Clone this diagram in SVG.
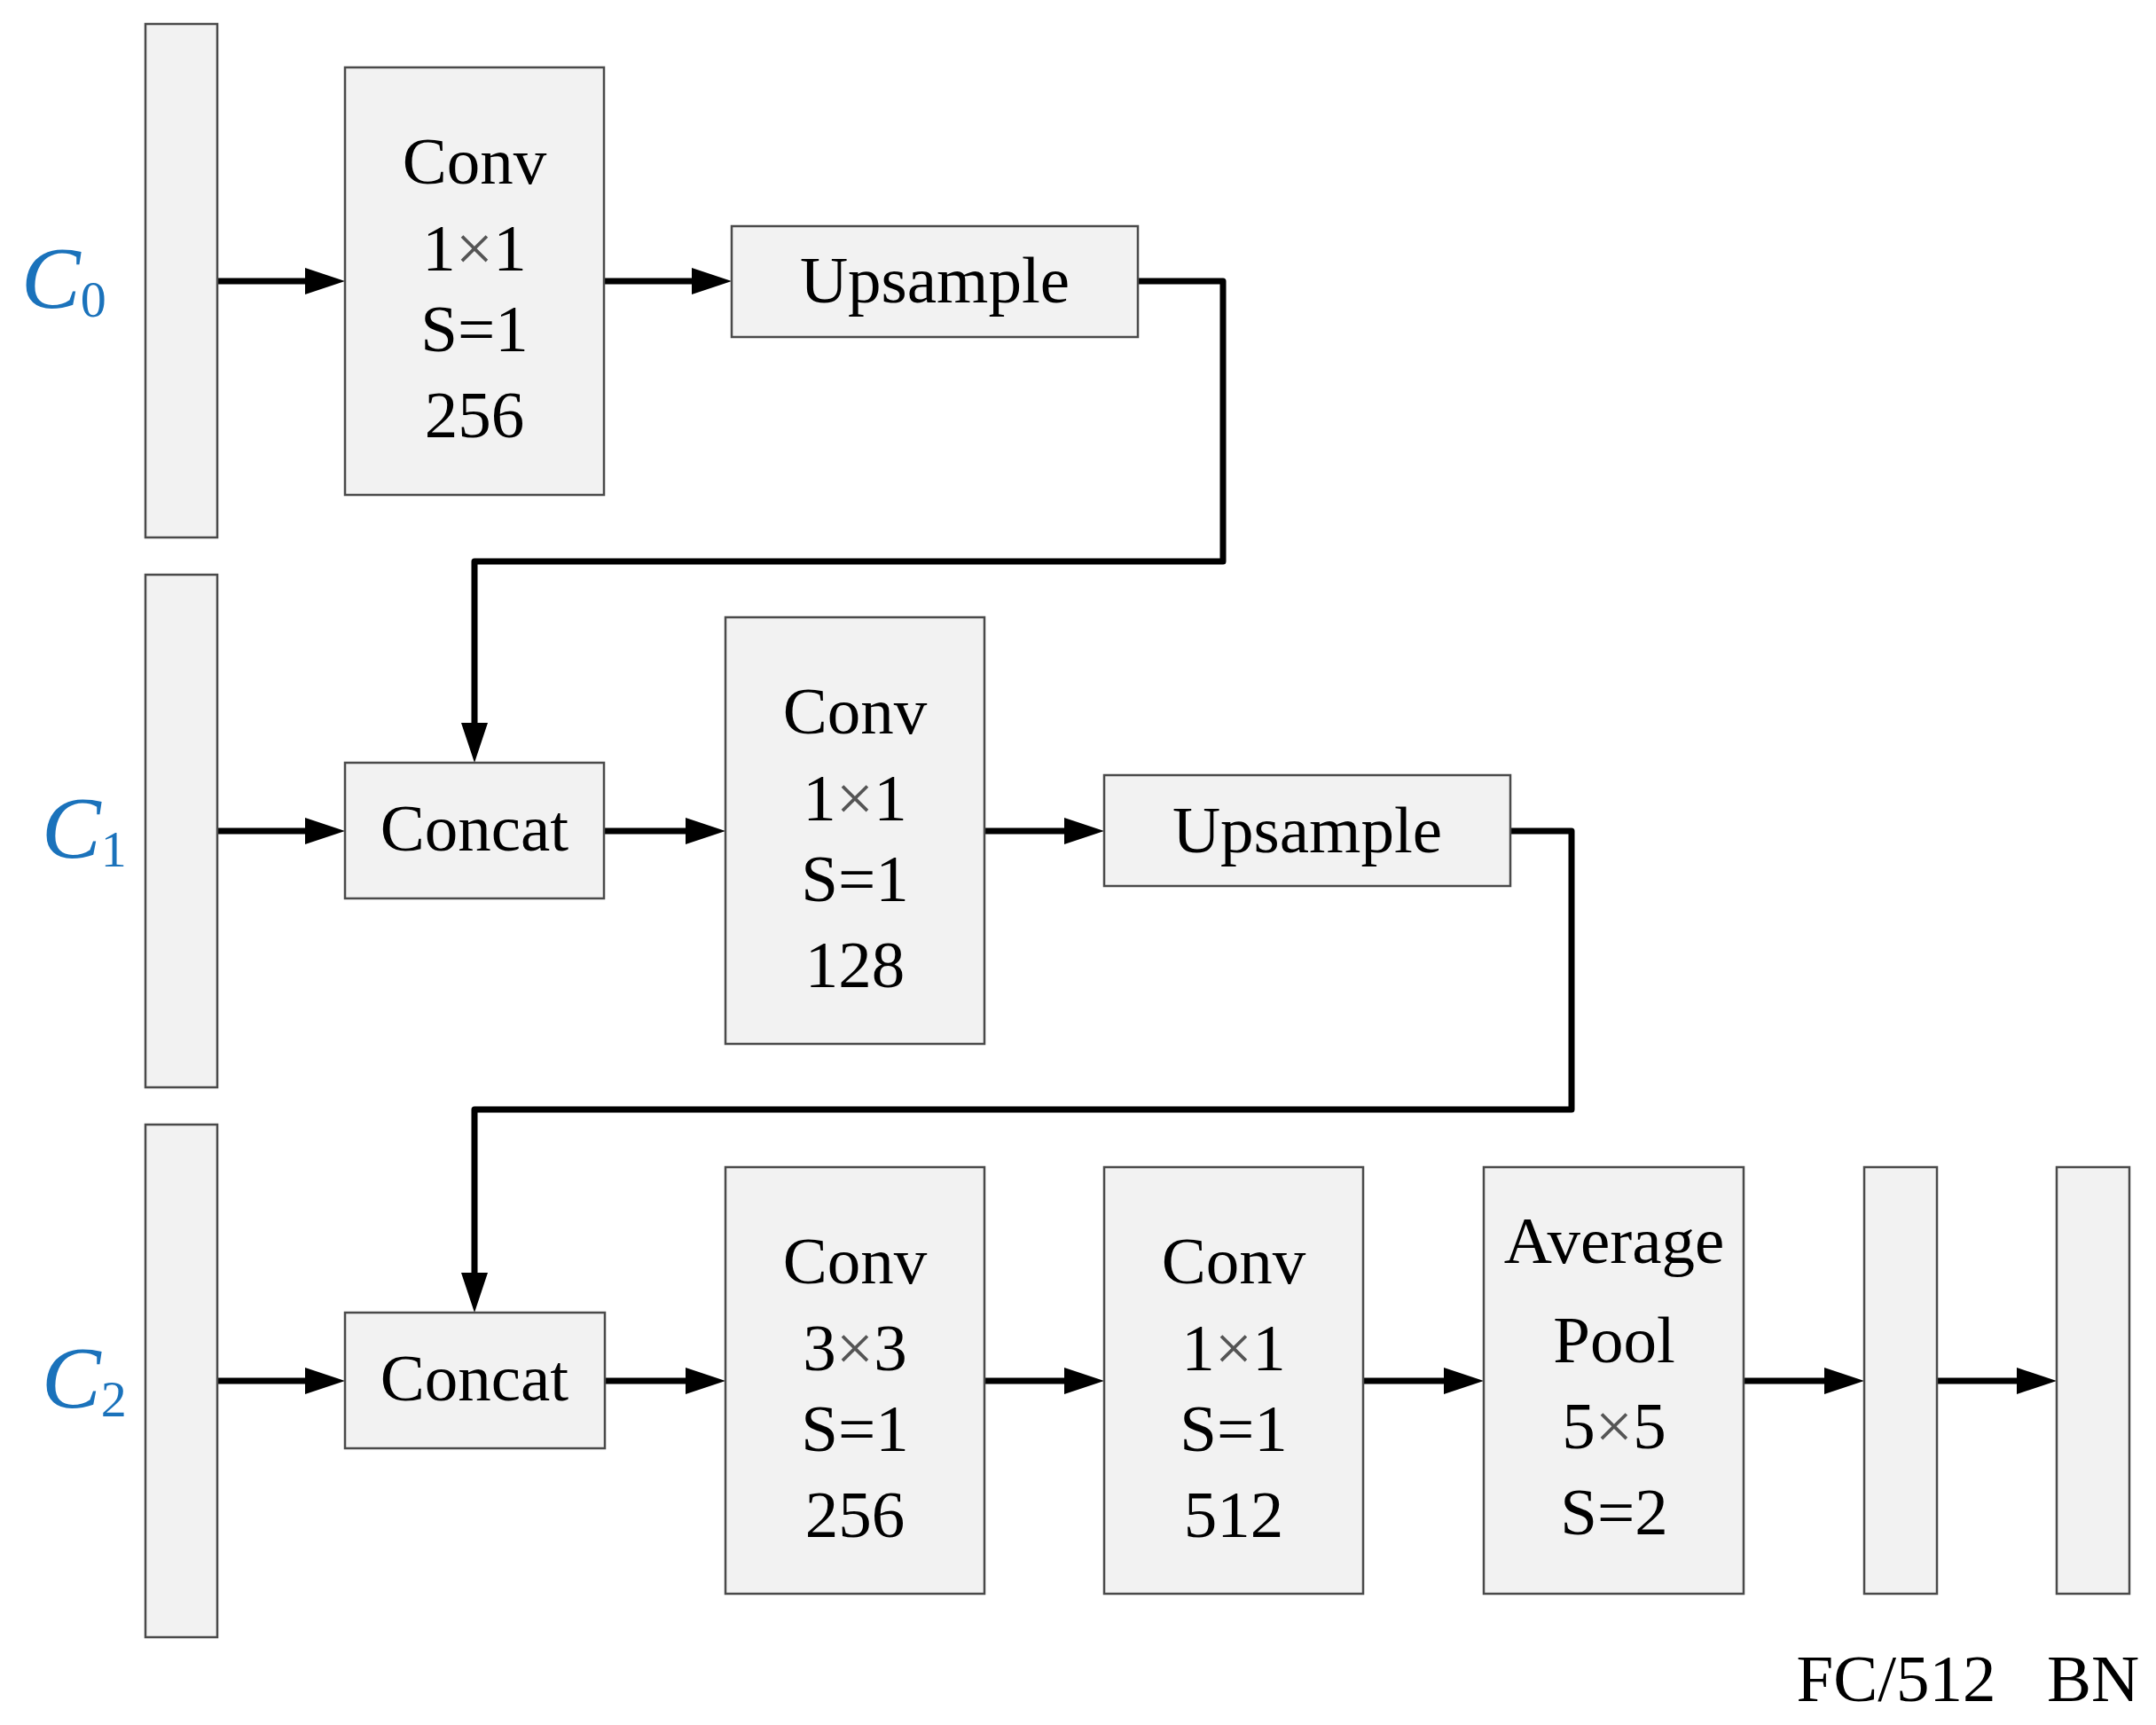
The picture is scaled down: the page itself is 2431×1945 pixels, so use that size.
<svg xmlns="http://www.w3.org/2000/svg" width="2431" height="1945" viewBox="0 0 2431 1945">
<style>
.box{fill:#f2f2f2;stroke:#4a4a4a;stroke-width:2.5}
.t{font-family:"Liberation Serif","Times New Roman",serif;font-size:75px;fill:#000;text-anchor:middle}
.x{fill:#555}
.lbl{font-family:"Liberation Serif","Times New Roman",serif;fill:#1a72bb}
.c{fill:none;stroke:#000;stroke-width:7;stroke-linejoin:round}
</style>
<defs>
<marker id="ah" markerUnits="userSpaceOnUse" markerWidth="46" markerHeight="32" refX="2" refY="16" orient="auto" viewBox="0 0 46 32">
<path d="M0,1 L45,16 L0,31 Z" fill="#000"/>
</marker>
</defs>
<rect width="2431" height="1945" fill="#fff"/>
<g id="connectors">
<path class="c" d="M245,317 H346" marker-end="url(#ah)"/>
<path class="c" d="M681,317 H782" marker-end="url(#ah)"/>
<path class="c" d="M1283,317 H1379 V633 H535 V817" marker-end="url(#ah)"/>
<path class="c" d="M245,937 H346" marker-end="url(#ah)"/>
<path class="c" d="M681,937 H775" marker-end="url(#ah)"/>
<path class="c" d="M1110,937 H1202" marker-end="url(#ah)"/>
<path class="c" d="M1703,937 H1772 V1251 H535 V1437" marker-end="url(#ah)"/>
<path class="c" d="M245,1557 H346" marker-end="url(#ah)"/>
<path class="c" d="M682,1557 H775" marker-end="url(#ah)"/>
<path class="c" d="M1110,1557 H1202" marker-end="url(#ah)"/>
<path class="c" d="M1537,1557 H1630" marker-end="url(#ah)"/>
<path class="c" d="M1966,1557 H2059" marker-end="url(#ah)"/>
<path class="c" d="M2184,1557 H2276" marker-end="url(#ah)"/>
</g>
<g id="c0">
<rect class="box" x="164" y="27" width="81" height="579"/>
<text class="lbl" x="24" y="347" font-size="100" font-style="italic">C<tspan font-size="58" font-style="normal" dy="10">0</tspan></text>
</g>
<g id="c1">
<rect class="box" x="164" y="648" width="81" height="578"/>
<text class="lbl" x="47" y="967" font-size="100" font-style="italic">C<tspan font-size="58" font-style="normal" dy="10">1</tspan></text>
</g>
<g id="c2">
<rect class="box" x="164" y="1268" width="81" height="578"/>
<text class="lbl" x="47" y="1587" font-size="100" font-style="italic">C<tspan font-size="58" font-style="normal" dy="10">2</tspan></text>
</g>
<g id="conv1">
<rect class="box" x="389" y="76" width="292" height="482"/>
<text class="t" x="535" y="207">Conv</text>
<text class="t" x="535" y="305">1<tspan class="x">×</tspan>1</text>
<text class="t" x="535" y="396">S=1</text>
<text class="t" x="535" y="493">256</text>
</g>
<g id="upsample1">
<rect class="box" x="825" y="255" width="458" height="125"/>
<text class="t" x="1054" y="341">Upsample</text>
</g>
<g id="concat1">
<rect class="box" x="389" y="860" width="292" height="153"/>
<text class="t" x="535" y="959">Concat</text>
</g>
<g id="conv2">
<rect class="box" x="818" y="696" width="292" height="481"/>
<text class="t" x="964" y="827">Conv</text>
<text class="t" x="964" y="925">1<tspan class="x">×</tspan>1</text>
<text class="t" x="964" y="1016">S=1</text>
<text class="t" x="964" y="1113">128</text>
</g>
<g id="upsample2">
<rect class="box" x="1245" y="874" width="458" height="125"/>
<text class="t" x="1474" y="961">Upsample</text>
</g>
<g id="concat2">
<rect class="box" x="389" y="1480" width="293" height="153"/>
<text class="t" x="535" y="1579">Concat</text>
</g>
<g id="conv3">
<rect class="box" x="818" y="1316" width="292" height="481"/>
<text class="t" x="964" y="1447">Conv</text>
<text class="t" x="964" y="1545">3<tspan class="x">×</tspan>3</text>
<text class="t" x="964" y="1636">S=1</text>
<text class="t" x="964" y="1733">256</text>
</g>
<g id="conv4">
<rect class="box" x="1245" y="1316" width="292" height="481"/>
<text class="t" x="1391" y="1447">Conv</text>
<text class="t" x="1391" y="1545">1<tspan class="x">×</tspan>1</text>
<text class="t" x="1391" y="1636">S=1</text>
<text class="t" x="1391" y="1733">512</text>
</g>
<g id="avgpool">
<rect class="box" x="1673" y="1316" width="293" height="481"/>
<text class="t" x="1820" y="1424">Average</text>
<text class="t" x="1820" y="1536">Pool</text>
<text class="t" x="1820" y="1633">5<tspan class="x">×</tspan>5</text>
<text class="t" x="1820" y="1730">S=2</text>
</g>
<g id="fc">
<rect class="box" x="2102" y="1316" width="82" height="481"/>
<text class="t" x="2138" y="1918">FC/512</text>
</g>
<g id="bn">
<rect class="box" x="2319" y="1316" width="82" height="481"/>
<text class="t" x="2360" y="1918">BN</text>
</g>
</svg>
